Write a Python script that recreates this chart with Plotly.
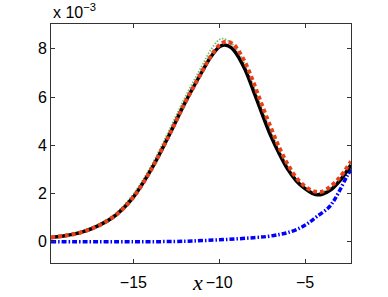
import plotly.graph_objects as go

# values in units of 1e-3
x_black = [-19.8, -19, -18, -17, -16, -15, -14, -13, -12, -11, -10.5, -10, -9.7, -9.3, -9, -8.5, -8, -7.5, -7, -6.5, -6, -5.5, -5, -4.6, -4.3, -4, -3.5, -3, -2.32]
y_black = [0.18, 0.25, 0.4, 0.68, 1.12, 1.85, 2.95, 4.3, 5.75, 7.05, 7.65, 8.08, 8.16, 8.05, 7.8, 7.15, 6.25, 5.3, 4.4, 3.65, 3.0, 2.52, 2.2, 2.02, 1.95, 1.97, 2.15, 2.5, 3.18]

x_red = [-19.8, -19, -18, -17, -16, -15, -14, -13, -12, -11, -10.5, -10, -9.6, -9.2, -9, -8.5, -8, -7.5, -7, -6.5, -6, -5.5, -5, -4.6, -4.3, -4, -3.5, -3, -2.32]
y_red = [0.18, 0.25, 0.4, 0.68, 1.12, 1.85, 2.95, 4.3, 5.75, 7.05, 7.68, 8.15, 8.3, 8.2, 8.05, 7.45, 6.6, 5.65, 4.75, 3.9, 3.2, 2.65, 2.3, 2.12, 2.07, 2.08, 2.3, 2.65, 3.33]

x_green = [-19.8, -19, -18, -17, -16, -15, -14, -13, -12, -11, -10.5, -10, -9.8, -9.4, -9, -8.5, -8, -7.5, -7, -6.5, -6, -5.5, -5, -4.6, -4.3, -4, -3.5, -3, -2.32]
y_green = [0.2, 0.28, 0.44, 0.74, 1.2, 1.98, 3.1, 4.5, 5.98, 7.3, 7.95, 8.38, 8.42, 8.3, 8.0, 7.35, 6.45, 5.5, 4.6, 3.8, 3.12, 2.6, 2.25, 2.08, 2.03, 2.05, 2.25, 2.6, 3.28]

x_blue = [-19.8, -15, -12, -11, -10, -9, -8, -7.2, -6.5, -6, -5.3, -4.8, -4.3, -3.65, -3.35, -3, -2.57, -2.32]
y_blue = [0.0, 0.0, 0.02, 0.05, 0.08, 0.12, 0.17, 0.22, 0.3, 0.38, 0.57, 0.78, 1.05, 1.4, 1.67, 2.1, 2.7, 3.0]

x_ticks = [-15, -10, -5]
y_ticks = [0, 2, 4, 6, 8]
y_ticktext = ["0", "2", "4", "6", "8"]

fig = go.Figure()
fig.add_trace(go.Scatter(x=x_blue, y=y_blue, mode="lines", line=dict(color="#0000ff", width=3.5, dash="5px,2px,1.5px,2px", shape="spline")))
fig.add_trace(go.Scatter(x=x_green, y=y_green, mode="lines", line=dict(color="#6fbf6f", width=1.8, dash="1.5px,1.5px", shape="spline")))
fig.add_trace(go.Scatter(x=x_black, y=y_black, mode="lines", line=dict(color="#000000", width=3.5, shape="spline")))
fig.add_trace(go.Scatter(x=x_red, y=y_red, mode="lines", line=dict(color="#e8401a", width=4, dash="4px,3px", shape="spline")))

axis_common = dict(
    showgrid=False, zeroline=False, showline=True, linecolor="#333333", linewidth=1,
    mirror="ticks", ticks="inside", ticklen=4, tickcolor="#333333", tickwidth=1,
    automargin=False,
    tickfont=dict(family="Liberation Sans, Arial, sans-serif", size=16, color="#000000"),
)
fig.update_xaxes(range=[-19.8, -2.32], tickvals=x_ticks, ticklabelstandoff=5, **axis_common)
fig.update_yaxes(range=[-0.88, 9.03], tickvals=y_ticks, ticktext=y_ticktext, **axis_common)

fig.add_annotation(xref="paper", yref="paper", x=0, y=1, xanchor="left", yanchor="bottom",
                   yshift=1, showarrow=False, text="x 10<sup>\u22123</sup>",
                   font=dict(family="Liberation Sans, Arial, sans-serif", size=16, color="#000000"))
fig.add_annotation(xref="paper", yref="paper", x=0.488, y=0, xanchor="center", yanchor="bottom",
                   yshift=-34, showarrow=False, text="<i>x</i>",
                   font=dict(family="Liberation Serif, Times New Roman, serif", size=22, color="#000000"))

fig.update_layout(
    width=388, height=297, showlegend=False,
    margin=dict(l=51, r=37, t=24, b=34),
    paper_bgcolor="white", plot_bgcolor="white",
)
fig.write_html("out.html", config={"displayModeBar": False},
               post_script="document.body.style.margin='0';document.body.style.overflow='hidden';")
